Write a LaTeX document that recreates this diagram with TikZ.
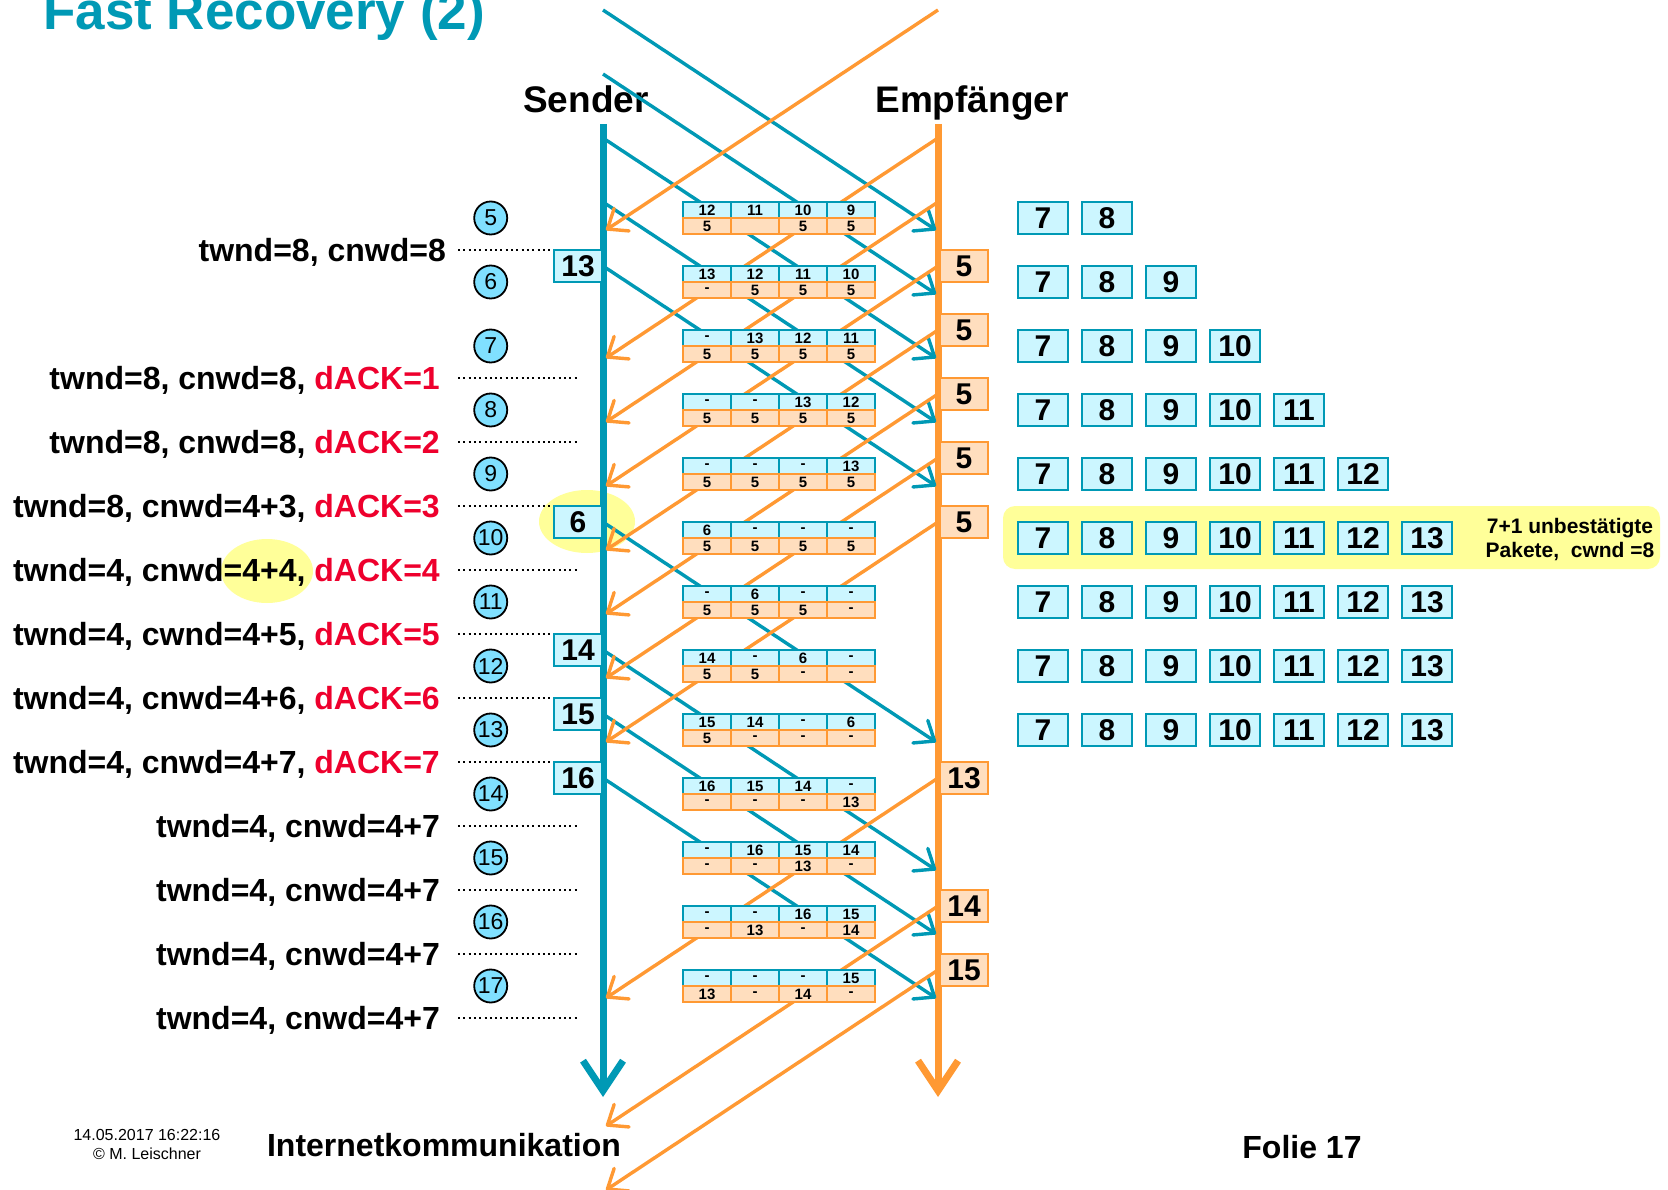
\documentclass[tikz,border=0pt]{standalone}
\usepackage{fontspec}
\setmainfont{Liberation Sans}
\usetikzlibrary{arrows.meta}
\definecolor{tealc}{RGB}{0,153,181}
\definecolor{orgc}{RGB}{255,153,51}
\definecolor{cyanfill}{RGB}{204,246,255}
\definecolor{orgfill}{RGB}{255,222,190}
\definecolor{circfill}{RGB}{128,224,255}
\definecolor{hlc}{RGB}{255,255,153}
\definecolor{redt}{RGB}{238,0,45}
\newcommand\myfs[1]{\fontsize{#1}{#1}\selectfont}
\begin{document}
\begin{tikzpicture}[x=1pt,y=-1pt,
  vline/.style={line width=7pt},
  bline/.style={draw=tealc,line width=3.4pt,-{Straight Barb[length=17pt,width=27pt,round]}},
  oline/.style={draw=orgc,line width=3.4pt,-{Straight Barb[length=17pt,width=27pt,round]}},
  tcell/.style={rectangle,draw=tealc,fill=cyanfill,line width=1.2pt,minimum width=48pt,minimum height=16pt,inner sep=0pt,font=\myfs{15}\bfseries},
  ocell/.style={rectangle,draw=orgc,fill=orgfill,line width=1.2pt,minimum width=48pt,minimum height=16pt,inner sep=0pt,font=\myfs{15}\bfseries},
  sbox/.style={rectangle,draw=tealc,fill=cyanfill,line width=2pt,minimum width=48pt,minimum height=32pt,inner sep=0pt,font=\myfs{30}\bfseries},
  rbox/.style={rectangle,draw=orgc,fill=orgfill,line width=2pt,minimum width=48pt,minimum height=32pt,inner sep=0pt,font=\myfs{30}\bfseries},
  wbox/.style={rectangle,draw=tealc,fill=cyanfill,line width=2pt,minimum width=50pt,minimum height=32pt,inner sep=0pt,font=\myfs{30}\bfseries},
  circ/.style={circle,draw=black,fill=circfill,line width=1.8pt,minimum size=33pt,inner sep=0pt,font=\myfs{23}},
  lab/.style={anchor=east,inner sep=0pt,font=\myfs{32}\bfseries},
  dotline/.style={line width=2pt,dash pattern=on 2pt off 3.3pt}
]
\clip (0,0) rectangle (1668,1190);
\fill[white] (0,0) rectangle (1668,1190);

% highlights
\fill[hlc] (587,521.5) ellipse [x radius=48pt, y radius=31.5pt];
\fill[hlc] (267,571) ellipse [x radius=46pt, y radius=32pt];
\fill[hlc, rounded corners=12pt] (1003,506) rectangle (1660,569);

% titles
\node[anchor=base west,text=tealc,font=\myfs{53}\bfseries,inner sep=0pt] (title) at (43,30) {Fast Recovery (2)};
\node[anchor=base,font=\myfs{37}\bfseries,inner sep=0pt] (sender) at (586,113) {Sender};
\node[anchor=base,font=\myfs{37}\bfseries,inner sep=0pt] (empf) at (972,113) {Empfänger};

% time lines
\coordinate (S0) at (603,124); \coordinate (S1) at (603,1097);
\coordinate (R0) at (938,124); \coordinate (R1) at (938,1097);
\draw[vline,draw=tealc,-{Straight Barb[length=30pt,width=40pt]}] (S0) -- (S1);
\draw[vline,draw=orgc,-{Straight Barb[length=30pt,width=40pt]}] (R0) -- (R1);

% data segments
\foreach \y [count=\i] in {10,74,138,202,266,522,650,714,778} {
  \coordinate (bs\i) at (603,\y);
  \coordinate (be\i) at (936,\y+220);
  \draw[bline] (bs\i) -- (be\i);
}
% acks
\foreach \y [count=\i] in {10,138,202,266,330,394,458,522,778,906,970} {
  \coordinate (os\i) at (938,\y);
  \coordinate (oe\i) at (606,\y+220);
  \draw[oline] (os\i) -- (oe\i);
}

% tables
\foreach \i/\a/\b/\c/\d/\e/\f/\g/\h in {
  0/12/11/10/9/5/{}/5/5,
  1/13/12/11/10/-/5/5/5,
  2/-/13/12/11/5/5/5/5,
  3/-/-/13/12/5/5/5/5,
  4/-/-/-/13/5/5/5/5,
  5/6/-/-/-/5/5/5/5,
  6/-/6/-/-/5/5/5/-,
  7/14/-/6/-/5/5/-/-,
  8/15/14/-/6/5/-/-/-,
  9/16/15/14/-/-/-/-/13,
  10/-/16/15/14/-/-/13/-,
  11/-/-/16/15/-/13/-/14,
  12/-/-/-/15/13/-/14/-} {
  \node[tcell] (ta\i) at (707,210+64*\i) {\a};
  \node[tcell] (tb\i) at (755,210+64*\i) {\b};
  \node[tcell] (tc\i) at (803,210+64*\i) {\c};
  \node[tcell] (td\i) at (851,210+64*\i) {\d};
  \node[ocell] (te\i) at (707,226+64*\i) {\e};
  \node[ocell] (tf\i) at (755,226+64*\i) {\f};
  \node[ocell] (tg\i) at (803,226+64*\i) {\g};
  \node[ocell] (th\i) at (851,226+64*\i) {\h};
}

% labels and dotted lines
\node[lab] (l0) at (446,252) {twnd=8, cnwd=8};
\node[lab] (l1) at (440,380) {twnd=8, cnwd=8, \textcolor{redt}{dACK=1}};
\node[lab] (l2) at (440,444) {twnd=8, cnwd=8, \textcolor{redt}{dACK=2}};
\node[lab] (l3) at (440,508) {twnd=8, cnwd=4+3, \textcolor{redt}{dACK=3}};
\node[lab] (l4) at (440,572) {twnd=4, cnwd=4+4, \textcolor{redt}{dACK=4}};
\node[lab] (l5) at (440,636) {twnd=4, cwnd=4+5, \textcolor{redt}{dACK=5}};
\node[lab] (l6) at (440,700) {twnd=4, cnwd=4+6, \textcolor{redt}{dACK=6}};
\node[lab] (l7) at (440,764) {twnd=4, cnwd=4+7, \textcolor{redt}{dACK=7}};
\node[lab] (l8) at (440,828) {twnd=4, cnwd=4+7};
\node[lab] (l9) at (440,892) {twnd=4, cnwd=4+7};
\node[lab] (l10) at (440,956) {twnd=4, cnwd=4+7};
\node[lab] (l11) at (440,1020) {twnd=4, cnwd=4+7};
\foreach \y [count=\i] in {250,378,442,506,570,634,698,762,826,890,954,1018} {
  \coordinate (da\i) at (458,\y);
  \coordinate (db\i) at (578,\y);
  \draw[dotline] (da\i) -- (db\i);
}

% sender boxes
\node[sbox] (s13) at (578,266) {13};
\node[sbox] (s6) at (578,522) {6};
\node[sbox] (s14) at (578,650) {14};
\node[sbox] (s15) at (578,714) {15};
\node[sbox] (s16) at (578,778) {16};

% receiver boxes
\node[rbox] (r5a) at (964,266) {5};
\node[rbox] (r5b) at (964,330) {5};
\node[rbox] (r5c) at (964,394) {5};
\node[rbox] (r5d) at (964,458) {5};
\node[rbox] (r5e) at (964,522) {5};
\node[rbox] (r13) at (964,778) {13};
\node[rbox] (r14) at (964,906) {14};
\node[rbox] (r15) at (964,970) {15};

% circled step numbers
\foreach \k [count=\i from 0] in {5,...,17}
  \node[circ] (c\k) at (490.7,218+64*\i) {\k};

% receiver window
\foreach \i/\n in {0/2,1/3,2/4,3/5,4/6,5/7,6/7,7/7,8/7} {
  \foreach \j in {1,...,\n} {
    \pgfmathtruncatemacro\wl{\j+6}
    \node[wbox] (w\i-\j) at (1043+64*\j-64,218+64*\i) {\wl};
  }
}
\node[align=center,font=\myfs{21}\bfseries,inner sep=0pt] (note) at (1570,539.5)
  {7+1 unbestätigte\\[3pt]Pakete,~~cwnd =8};

% footer
\node[font=\myfs{32}\bfseries,inner sep=0pt] (inet) at (444,1145) {Internetkommunikation};
\node[font=\myfs{32}\bfseries,inner sep=0pt] (folie) at (1302,1147) {Folie 17};
\node[font=\myfs{16},inner sep=0pt] (date) at (147,1135) {14.05.2017 16:22:16};
\node[font=\myfs{16},inner sep=0pt] (copy) at (147,1154) {© M. Leischner};
\end{tikzpicture}
\end{document}
